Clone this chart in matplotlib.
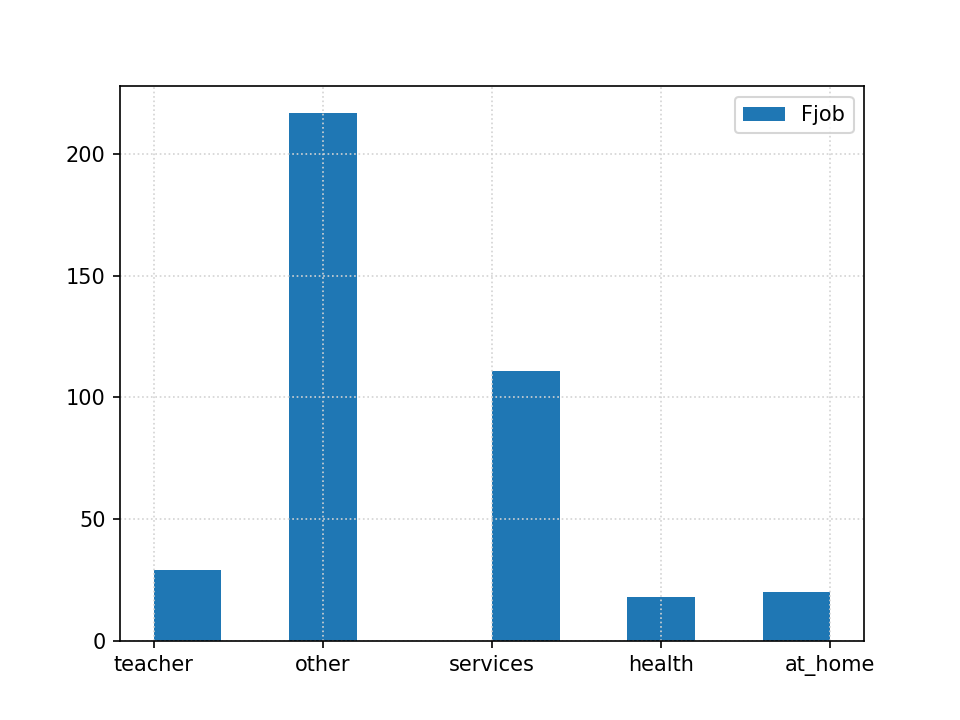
import matplotlib
matplotlib.use("Agg")
import matplotlib.pyplot as plt

# Father's job counts
jobs = ["teacher", "other", "services", "health", "at_home"]
counts = [29, 217, 111, 18, 20]

fig, ax = plt.subplots(figsize=(6.4, 4.8), dpi=150)
ax.hist(jobs, bins=10, weights=counts, color="#1f77b4", label="Fjob")
ax.grid(linestyle=":", color="lightgray")
ax.legend(loc="upper right")
fig.savefig("out.png")
